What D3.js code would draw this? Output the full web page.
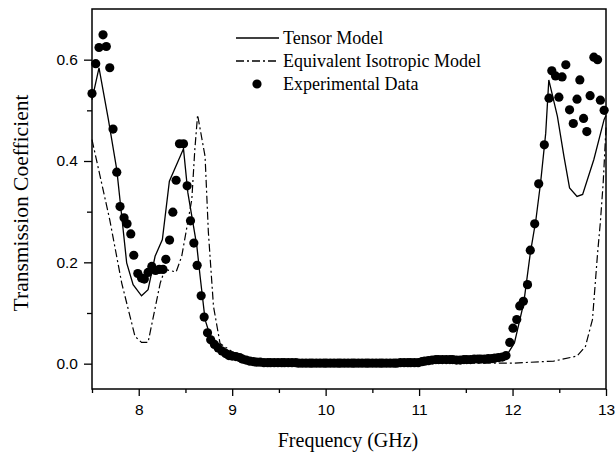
<!DOCTYPE html>
<html>
<head>
<meta charset="utf-8">
<script src="https://cdn.jsdelivr.net/npm/d3@7"></script>
<style>
  body { margin: 0; background: #fff; }
  .tick text { font-family: 'Liberation Sans', Arial, sans-serif; }
</style>
</head>
<body>
<svg id="chart" width="616" height="452"></svg>
<script>
// frequency grid of the measured points (GHz)
let expFreq = [7.5, 7.54, 7.575, 7.618, 7.653, 7.69, 7.725, 7.765, 7.8, 7.843, 7.875, 7.915, 7.947, 7.99, 8.03, 8.06,
    8.1, 8.14, 8.18, 8.22, 8.26, 8.29, 8.33, 8.365, 8.4, 8.436, 8.479, 8.518, 8.554, 8.59, 8.625, 8.668, 8.7, 8.736,
    8.77, 8.81, 8.85, 8.89, 8.93, 8.965, 9.0,
    9.04, 9.08, 9.11, 9.15, 9.19, 9.23, 9.26, 9.30, 9.34, 9.38, 9.41, 9.45, 9.49, 9.53, 9.56, 9.60, 9.64, 9.68, 9.71,
    9.75, 9.79, 9.83, 9.86, 9.90, 9.94, 9.98, 10.01, 10.05, 10.09, 10.13, 10.16, 10.20, 10.24, 10.28, 10.31, 10.35,
    10.39, 10.43, 10.46, 10.50, 10.54, 10.58, 10.61, 10.65, 10.69, 10.73, 10.76, 10.80, 10.84, 10.88, 10.91, 10.95,
    10.99, 11.03, 11.06, 11.10, 11.14, 11.18, 11.21, 11.25, 11.29, 11.33, 11.36, 11.40, 11.44, 11.48, 11.51, 11.55,
    11.59, 11.63, 11.66, 11.70, 11.74, 11.78, 11.81, 11.85, 11.89,
    11.93, 11.97, 12.005, 12.045, 12.077, 12.116, 12.16, 12.19, 12.237, 12.28, 12.34, 12.39, 12.42, 12.46, 12.496,
    12.53, 12.57, 12.61, 12.65, 12.69, 12.72, 12.76, 12.795, 12.83, 12.87, 12.91, 12.94, 12.98]
let expT = [0.533, 0.592, 0.624, 0.649, 0.626, 0.584, 0.463, 0.378, 0.31, 0.288, 0.276, 0.256, 0.214, 0.178, 0.169, 0.167,
    0.18, 0.192, 0.184, 0.186, 0.186, 0.206, 0.244, 0.299, 0.362, 0.434, 0.434, 0.351, 0.282, 0.238, 0.194, 0.134, 0.092, 0.061,
    0.047, 0.038, 0.031, 0.025, 0.02, 0.016, 0.015,
    0.014, 0.012, 0.009, 0.007, 0.005, 0.004, 0.003, 0.003, 0.002, 0.002, 0.002, 0.002, 0.002, 0.002, 0.002, 0.002, 0.002, 0.002, 0.001,
    0.001, 0.001, 0.001, 0.001, 0.001, 0.001, 0.001, 0.001, 0.001, 0.001, 0.001, 0.001, 0.001, 0.001, 0.001, 0.001, 0.001,
    0.001, 0.001, 0.001, 0.001, 0.001, 0.001, 0.001, 0.001, 0.001, 0.001, 0.001, 0.002, 0.002, 0.002, 0.002, 0.002,
    0.002, 0.004, 0.005, 0.006, 0.007, 0.008, 0.008, 0.008, 0.008, 0.008, 0.008, 0.007, 0.007, 0.008, 0.008, 0.008,
    0.009, 0.009, 0.009, 0.009, 0.010, 0.010, 0.011, 0.012, 0.013,
    0.016, 0.042, 0.07, 0.087, 0.114, 0.123, 0.156, 0.224, 0.276, 0.355, 0.432, 0.524, 0.578, 0.568, 0.526,
    0.566, 0.59, 0.501, 0.474, 0.522, 0.56, 0.484, 0.458, 0.529, 0.605, 0.6, 0.52, 0.5]

let tensorFreq = [7.5, 7.575, 7.675, 7.765, 7.818, 7.871, 7.94, 8.03, 8.1, 8.175, 8.253, 8.328, 8.479, 8.526, 8.622,
    8.657, 8.71, 8.76, 8.87, 9.01, 9.3, 9.73, 10.5, 11.3, 11.8, 11.91, 12.02, 12.12, 12.19, 12.25, 12.3, 12.355, 12.388,
    12.48, 12.55, 12.61, 12.69, 12.75, 12.87, 12.98, 13.0]
let tensorT = [0.521, 0.584, 0.482, 0.383, 0.291, 0.199, 0.156, 0.134, 0.146, 0.212, 0.245, 0.36, 0.424, 0.337, 0.232,
    0.172, 0.087, 0.057, 0.034, 0.021, 0.004, 0.001, 0.001, 0.002, 0.003, 0.008, 0.041, 0.12, 0.218, 0.284, 0.357, 0.455, 0.56,
    0.488, 0.409, 0.347, 0.33, 0.334, 0.403, 0.482, 0.49]

let isoFreq = [7.5, 7.69, 7.818, 7.96, 8.03, 8.1, 8.23, 8.28, 8.4, 8.46, 8.568, 8.6, 8.63, 8.71, 8.745, 8.8, 8.87, 8.997,
    9.2, 9.5, 10.5, 11.5, 12.0, 12.44, 12.69, 12.78, 12.855, 12.91, 12.94, 12.97, 13.0]
let isoT = [0.442, 0.284, 0.159, 0.054, 0.042, 0.042, 0.159, 0.186, 0.181, 0.212, 0.324, 0.422, 0.491, 0.409, 0.26, 0.113, 0.04, 0.024,
    0.005, 0.002, 0.001, 0.001, 0.001, 0.005, 0.015, 0.034, 0.087, 0.218, 0.28, 0.357, 0.466]

let xMajor = [8, 9, 10, 11, 12, 13]
let xMinor = [7.5, 8.5, 9.5, 10.5, 11.5, 12.5]
let yMajor = [0.0, 0.2, 0.4, 0.6]
let yMinor = [0.1, 0.3, 0.5]
let legendLabels = ['Tensor Model', 'Equivalent Isotropic Model', 'Experimental Data']

function main() {
    let svg = d3.select('#chart'),
        margin = {top: 9, bottom: 63, left: 92, right: 10},
        width = svg.attr('width') - margin.left - margin.right,
        height = svg.attr('height') - margin.top - margin.bottom

    let xScale = d3.scaleLinear().domain([7.5, 13]).range([margin.left, margin.left + width]),
        yScale = d3.scaleLinear().domain([-0.05, 0.7]).range([margin.top + height, margin.top])

    let serif = "'Liberation Serif', 'Times New Roman', serif"
    let dashDot = '8,3,2,3'

    // axes: major + minor ticks, no domain path (frame drawn separately)
    svg.append('g').attr('transform', 'translate(0,' + (margin.top + height) + ')')
        .call(d3.axisBottom(xScale).tickValues(xMajor).tickSize(7).tickPadding(8).tickFormat(d3.format('d')))
    svg.append('g').attr('transform', 'translate(0,' + (margin.top + height) + ')')
        .call(d3.axisBottom(xScale).tickValues(xMinor).tickSize(4).tickFormat(''))

    svg.append('g').attr('transform', 'translate(' + margin.left + ',0)')
        .call(d3.axisLeft(yScale).tickValues(yMajor).tickSize(8).tickPadding(6).tickFormat(d3.format('.1f')))
    svg.append('g').attr('transform', 'translate(' + margin.left + ',0)')
        .call(d3.axisLeft(yScale).tickValues(yMinor).tickSize(5).tickFormat(''))

    svg.selectAll('.domain').remove()
    svg.selectAll('.tick line').attr('stroke', '#000').attr('stroke-width', 1.3)
    svg.selectAll('.tick text').attr('font-size', 15.5).attr('fill', '#000')

    svg.append('rect')
        .attr('x', margin.left).attr('y', margin.top)
        .attr('width', width).attr('height', height)
        .attr('fill', 'none').attr('stroke', '#000').attr('stroke-width', 1.5)

    let plot = svg.append('g')
    let line = d3.line().x(d => xScale(d[0])).y(d => yScale(d[1]))

    plot.append('path')
        .datum(isoFreq.map((f, i) => [f, isoT[i]]))
        .attr('d', line)
        .attr('fill', 'none').attr('stroke', '#000').attr('stroke-width', 1.2)
        .attr('stroke-dasharray', dashDot)

    plot.append('path')
        .datum(tensorFreq.map((f, i) => [f, tensorT[i]]))
        .attr('d', line)
        .attr('fill', 'none').attr('stroke', '#000').attr('stroke-width', 1.3)

    plot.selectAll('circle.exp')
        .data(expFreq.map((f, i) => [f, expT[i]]))
        .enter()
        .append('circle')
        .attr('class', 'exp')
        .attr('cx', d => xScale(d[0]))
        .attr('cy', d => yScale(d[1]))
        .attr('r', 4.6)
        .attr('fill', '#000')

    // axis titles
    svg.append('text')
        .attr('text-anchor', 'middle')
        .attr('font-family', serif)
        .attr('font-size', 20)
        .attr('x', 348)
        .attr('y', 447)
        .text('Frequency (GHz)')

    svg.append('text')
        .attr('text-anchor', 'middle')
        .attr('font-family', serif)
        .attr('font-size', 21.5)
        .attr('transform', 'translate(28,' + 203 + ') rotate(-90)')
        .text('Transmission Coefficient')

    // legend
    let legend = svg.append('g').attr('transform', 'translate(236,38)')
    legendLabels.forEach((lab, i) => {
        let g = legend.append('g').attr('transform', 'translate(0,' + (i * 23) + ')')
        if (i < 2) {
            g.append('line')
                .attr('x1', 0).attr('x2', 43).attr('y1', 0).attr('y2', 0)
                .attr('stroke', '#000').attr('stroke-width', 1.3)
                .attr('stroke-dasharray', i === 1 ? dashDot : null)
        } else {
            g.append('circle').attr('cx', 21).attr('cy', 0).attr('r', 4.6).attr('fill', '#000')
        }
        g.append('text')
            .attr('x', 47).attr('y', 6)
            .attr('font-family', serif)
            .attr('font-size', 18)
            .text(lab)
    })
}

main()
</script>
</body>
</html>
